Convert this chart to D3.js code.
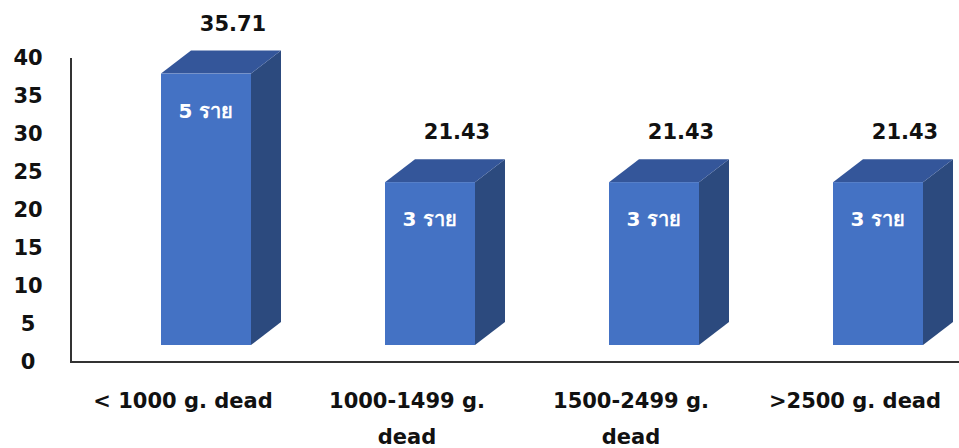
<!DOCTYPE html>
<html>
<head>
<meta charset="utf-8">
<script src="https://cdn.jsdelivr.net/npm/d3@7"></script>
<style>
  html, body { margin: 0; padding: 0; background: #fff; }
  svg text { font-family: "DejaVu Sans", "Noto Sans", sans-serif; font-weight: 700; }
</style>
</head>
<body>
<svg id="chart" width="959" height="448"></svg>
<script>
// Categories (birth weight groups), percentage values and case counts
const categories = [["< 1000 g. dead"], ["1000-1499 g.", "dead"], ["1500-2499 g.", "dead"], [">2500 g. dead"]];
const values = [35.71, 21.43, 21.43, 21.43];
const counts = ["5 ราย", "3 ราย", "3 ราย", "3 ราย"];
const yTicks = [0, 5, 10, 15, 20, 25, 30, 35, 40];

const svg = d3.select("#chart");
const W = 959, H = 448;

// Plot frame
const axisX = 71, axisTop = 58, axisBottom = 362;
const floorY = 345;            // baseline of the bar fronts
const depthX = 30, depthY = 23; // 3D extrusion
const barW = 90;

const x = d3.scaleBand().domain(d3.range(categories.length)).range([axisX, axisX + 224 * categories.length]).padding(0);
// Axis scale (wall) and bar scale (front plane) share the same px/unit
const yAxis = d3.scaleLinear().domain([0, 40]).range([axisBottom, axisTop]);
const yBar = d3.scaleLinear().domain([0, 40]).range([floorY, floorY - (axisBottom - axisTop)]);

// Y tick labels
svg.append("g").selectAll("text").data(yTicks).join("text")
  .attr("x", 28).attr("y", d => yAxis(d))
  .attr("text-anchor", "middle").attr("dominant-baseline", "central")
  .attr("font-size", 21).attr("fill", "#111")
  .text(d => d);

// Axis lines
svg.append("path")
  .attr("d", `M${axisX},${axisTop}V${axisBottom}H${W}`)
  .attr("fill", "none").attr("stroke", "#333").attr("stroke-width", 2);

// Bars
const bars = svg.append("g").selectAll("g").data(values).join("g");
bars.each(function(v, i) {
  const g = d3.select(this);
  const x0 = x(i) + 90, x1 = x0 + barW;
  const yt = yBar(v), yb = yBar(0);
  // side face
  g.append("path")
    .attr("d", `M${x1},${yt}L${x1 + depthX},${yt - depthY}L${x1 + depthX},${yb - depthY}L${x1},${yb}Z`)
    .attr("fill", "#2C4A7E");
  // top face
  g.append("path")
    .attr("d", `M${x0},${yt}L${x0 + depthX},${yt - depthY}L${x1 + depthX},${yt - depthY}L${x1},${yt}Z`)
    .attr("fill", "#34569A");
  // front face
  g.append("rect")
    .attr("x", x0).attr("y", yt).attr("width", barW).attr("height", yb - yt)
    .attr("fill", "#4472C4");
  // case count inside the bar
  g.append("text")
    .attr("x", x0 + barW / 2).attr("y", yt + 37)
    .attr("text-anchor", "middle").attr("dominant-baseline", "central")
    .attr("font-size", 20).attr("fill", "#fff")
    .text(counts[i]);
  // value label above the bar
  g.append("text")
    .attr("x", x0 + barW / 2 + 27).attr("y", yt - depthY - 27)
    .attr("text-anchor", "middle").attr("dominant-baseline", "central")
    .attr("font-size", 21).attr("fill", "#111")
    .text(v.toFixed(2));
});

// Category labels
const cat = svg.append("g").selectAll("text").data(categories).join("text")
  .attr("x", (d, i) => x(i) + x.bandwidth() / 2)
  .attr("y", 401)
  .attr("text-anchor", "middle").attr("dominant-baseline", "central")
  .attr("font-size", 21).attr("fill", "#111");
cat.selectAll("tspan").data(d => d).join("tspan")
  .attr("x", function() { return d3.select(this.parentNode).attr("x"); })
  .attr("dy", (d, j) => j === 0 ? 0 : 36)
  .text(d => d);
</script>
</body>
</html>
